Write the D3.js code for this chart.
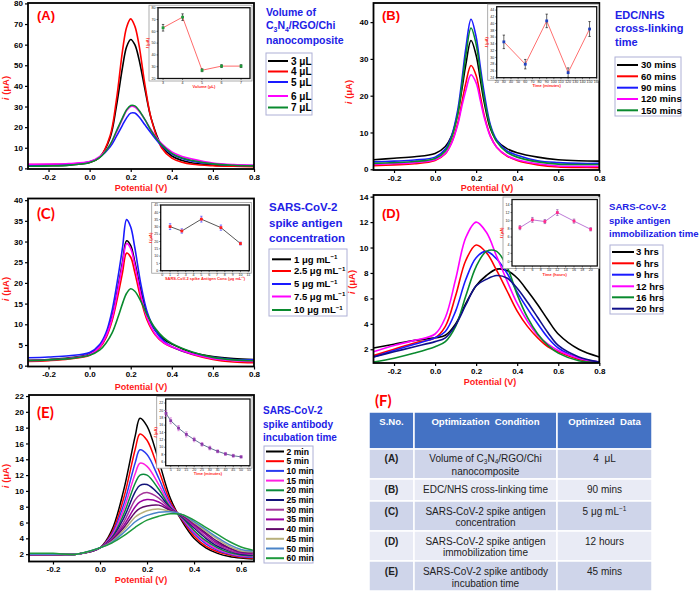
<!DOCTYPE html>
<html><head><meta charset="utf-8">
<script src="https://cdn.jsdelivr.net/npm/d3@7"></script>
<style>body{margin:0;background:#fff} svg{display:block;font-family:"Liberation Sans",Arial,sans-serif}</style>
</head><body><svg id="c" width="700" height="593"></svg>
<script>
// ---------------- DATA ----------------
// Panel A: volume of nanocomposite
const A_x = [-0.3,-0.2,-0.1,0,0.05,0.1,0.13,0.16,0.18,0.2,0.22,0.24,0.27,0.3,0.35,0.4,0.45,0.5,0.6,0.7,0.8];
const A_3uL = [1.2,1.3,1.6,2.8,5.5,15,30,49,59,62.5,60,53,38,24,11,6,3.8,2.6,1.6,1.3,1.1];
const A_4uL = [1.8,1.9,2.1,3.0,5.5,16,33,57,68.5,72.5,69,60,40,24,10,5,3,2,1.3,1.0,0.8];
const A_5uL = [1.4,1.6,2.0,3.2,5.5,10.5,15.5,21,24.5,26.8,26.8,25,21,17,11,7,4.8,3.5,2.2,1.6,1.4];
const A_6uL = [2.0,2.1,2.4,3.3,5.8,11.5,17.5,24,28,30,29.8,27.8,23.5,18.5,12,8,5.8,4.5,2.6,1.8,1.5];
const A_7uL = [1.0,1.2,1.6,2.8,5.3,11.5,18,24.5,28.5,30.5,30.3,28.2,23.5,18.2,11.5,7.3,5,3.8,2.2,1.5,1.2];
const A_labels = ["3 \u03bcL","4 \u03bcL","5 \u03bcL","6 \u03bcL","7 \u03bcL"];
const A_inset_x = [3,4,5,6,7];
const A_inset_y = [63,72,27,30.5,30.5];
const A_inset_err = [2.8,2.8,1.2,1.2,1.2];

// Panel B: EDC/NHS cross-linking time
const B_x = [-0.3,-0.2,-0.1,0,0.05,0.08,0.11,0.13,0.15,0.175,0.2,0.22,0.24,0.27,0.3,0.35,0.4,0.5,0.6,0.7,0.8];
const B_30 = [2.6,3.0,3.4,4.3,6.2,9,15,21.5,28.5,35,31,24.5,18,11,7.8,5.6,4.5,3.3,2.6,2.3,2.2];
const B_60 = [1.0,1.2,1.5,2.4,4.2,7.2,12.5,18,23.5,28.2,25.5,20,14.5,9,6,3.6,2.4,1.2,0.6,0.5,0.4];
const B_90 = [2.0,2.2,2.5,3.3,5.5,9,16,24,33,40.8,36,28,20.5,12,8,5,3.8,2.3,1.8,1.6,1.6];
const B_120 = [1.3,1.5,1.8,2.6,4.3,7,12,17,21.5,25.7,23.5,18.8,14,8.8,6,3.7,2.6,1.5,0.9,0.8,0.8];
const B_150 = [1.6,1.8,2.1,2.9,5,8.5,15,22.5,31,38.4,34,26.5,19,11.5,7.5,4.6,3.3,2.0,1.4,1.3,1.3];
const B_labels = ["30 mins","60 mins","90 mins","120 mins","150 mins"];
const B_inset_x = [30,60,90,120,150];
const B_inset_y = [34.6,28,40.8,25.5,38.4];
const B_inset_err = [2,1.4,2,1.4,2.2];

// Panel C: antigen concentration
const C_x = [-0.3,-0.2,-0.1,0,0.05,0.08,0.11,0.14,0.16,0.18,0.2,0.22,0.25,0.28,0.32,0.36,0.4,0.5,0.6,0.7,0.8];
const C_1 = [1.3,1.5,1.9,2.8,4.8,7.4,12,19.5,25,30.2,29,25,18,12.5,8.5,6.4,5.2,3.2,2.2,1.7,1.5];
const C_2p5 = [1.0,1.2,1.6,2.5,4.4,6.8,11,17.5,22.5,27.2,26.2,22.5,16,11,7.4,5.5,4.5,2.7,1.5,0.9,0.7];
const C_5 = [1.9,2.1,2.4,3.2,5.2,8,13.5,22,28.5,35.3,33.5,28.5,19.5,13,8.5,6,4.6,2.8,2,1.5,1.4];
const C_7p5 = [1.2,1.4,1.8,2.7,4.6,7.2,11.6,19,24.5,29.5,28.3,24.3,17,11.5,7.6,5.6,4.6,2.8,1.7,1.2,1.0];
const C_10 = [1.2,1.4,1.7,2.5,3.8,5.5,8,12,15,17.5,18.6,18,15.5,12.3,9,6.8,5.4,3.3,2,1.4,1.2];
const C_labels = ["1","2.5","5","7.5","10"];
const C_inset_x = [1,2.5,5,7.5,10];
const C_inset_y = [30.2,27.2,35.3,29.5,18.6];
const C_inset_err = [2,1.5,2,1.8,1];

// Panel D: immobilization time
const D_x = [-0.3,-0.2,-0.1,0,0.05,0.1,0.15,0.2,0.25,0.3,0.35,0.4,0.45,0.5,0.55,0.6,0.7,0.8];
const D_3h = [2.1,2.4,2.7,2.9,3.1,4.0,5.6,7.0,7.8,8.3,8.2,7.6,6.6,5.5,4.3,3.2,2.0,1.4];
const D_6h = [1.5,2.0,2.5,2.9,3.8,6.2,9.0,10.2,9.6,8.2,6.6,5.0,3.8,2.9,2.2,1.8,1.2,1.0];
const D_9h = [1.4,1.9,2.4,2.9,3.4,5.0,7.5,9.2,9.7,9.1,8.0,6.5,5.2,4.0,2.9,2.1,1.3,1.0];
const D_12h = [1.8,2.3,2.7,3.2,4.5,7.5,10.8,12.0,11.2,9.3,7.4,5.6,4.2,3.1,2.4,1.9,1.3,1.0];
const D_16h = [1.0,1.3,1.7,2.2,2.6,3.8,6.2,8.5,9.7,9.7,8.5,6.3,4.5,3.2,2.3,1.7,1.1,0.95];
const D_20h = [1.4,1.8,2.2,2.6,2.9,3.9,5.5,7.0,7.5,7.8,7.6,6.8,5.7,4.5,3.3,2.3,1.4,1.0];
const D_labels = ["3 hrs","6 hrs","9 hrs","12 hrs","16 hrs","20 hrs"];
const D_inset_x = [3,6,9,12,16,20];
const D_inset_y = [8.3,10.2,9.8,12,9.9,7.9];
const D_inset_err = [0.5,0.6,0.5,0.7,0.5,0.4];

// Panel E: antibody incubation time
const E_x = [-0.3,-0.2,-0.1,0,0.05,0.1,0.15,0.17,0.2,0.25,0.3,0.35,0.4,0.45,0.5,0.55,0.6,0.65];
const E_2 = [1.9,1.9,2.0,2.8,5.0,10.0,17.0,19.2,18.2,13.8,9.0,6.1,4.0,2.8,2.1,1.7,1.5,1.4];
const E_5 = [1.9,2.0,2.0,2.8,4.7,9.0,15.3,17.2,16.4,12.6,8.6,6.3,4.3,3.0,2.3,1.9,1.6,1.5];
const E_10 = [2.0,2.0,2.0,2.8,4.5,8.2,13.6,15.2,14.6,11.6,8.3,6.4,4.6,3.3,2.5,2.0,1.7,1.6];
const E_15 = [2.0,2.0,2.0,2.8,4.3,7.6,12.2,13.5,13.1,10.8,8.1,6.5,4.8,3.5,2.6,2.1,1.8,1.7];
const E_20 = [2.0,2.0,2.0,2.8,4.1,7.0,11.0,12.0,12.0,10.2,7.9,6.6,5.0,3.7,2.8,2.2,1.9,1.8];
const E_25 = [1.9,2.0,2.0,2.8,4.0,6.5,9.9,10.7,10.8,9.6,7.8,6.7,5.3,4.0,3.0,2.4,2.0,1.9];
const E_30 = [1.9,1.9,2.0,2.8,3.9,6.0,8.9,9.5,9.8,9.1,7.7,6.8,5.5,4.2,3.2,2.5,2.1,2.0];
const E_35 = [2.0,2.0,2.0,2.8,3.8,5.6,8.0,8.6,8.9,8.6,7.6,6.9,5.7,4.5,3.4,2.7,2.2,2.1];
const E_40 = [2.0,2.0,2.0,2.8,3.7,5.3,7.3,7.8,8.1,8.2,7.5,6.9,5.9,4.7,3.6,2.8,2.3,2.2];
const E_45 = [2.0,2.0,2.0,2.8,3.6,5.0,6.7,7.1,7.5,7.7,7.4,7.0,6.0,4.9,3.9,3.0,2.4,2.3];
const E_50 = [2.0,2.0,2.0,2.8,3.5,4.7,6.1,6.5,6.9,7.3,7.35,7.0,6.1,5.1,4.1,3.2,2.6,2.4];
const E_60 = [2.1,2.1,2.0,2.8,3.4,4.3,5.4,5.8,6.3,6.8,7.1,7.0,6.3,5.4,4.5,3.6,2.9,2.5];
const E_labels = ["2 min","5 min","10 min","15 min","20 min","25 min","30 min","35 min","40 min","45 min","50 min","60 min"];
const E_inset_x = [2,5,10,15,20,25,30,35,40,45,50];
const E_inset_y = [19.2,17.2,15.2,13.5,12.1,10.8,9.8,8.9,8.2,7.7,7.4];
const E_inset_err = [0.8,0.8,0.7,0.7,0.6,0.5,0.5,0.4,0.4,0.4,0.3];

// Tick values
const xTicksMain = [-0.2,0,0.2,0.4,0.6,0.8];
const xTicksE = [-0.2,0,0.2,0.4,0.6];
const A_yTicks = [0,10,20,30,40,50,60,70,80];
const B_yTicks = [0,10,20,30,40];
const C_yTicks = [0,5,10,15,20,25,30,35,40];
const D_yTicks = [2,4,6,8,10,12,14];
const E_yTicks = [2,4,6,8,10,12,14,16,18,20,22];

// Table F
const F_header = ["S.No.","Optimization  Condition","Optimized  Data"];
const F_ids = ["(A)","(B)","(C)","(D)","(E)"];
const F_cond = [["Volume of C|3|N|4|/RGO/Chi","nanocomposite"],["EDC/NHS cross-linking time"],["SARS-CoV-2 spike antigen","concentration"],["SARS-CoV-2 spike antigen","immobilization time"],["SARS-CoV-2 spike antibody","incubation time"]];
const F_value = ["4  \u03bcL","90 mins","5 \u03bcg mL^-1","12 hours","45 mins"];

// ---------------- DRAW ----------------
const svg = d3.select("#c");
const FONT = "'Liberation Sans',Arial,sans-serif";
const RED = "#ff1a1a", BLUE_T = "#2121e6";
const col5 = ["#000000","#ff0000","#1a1aff","#ff00ff","#098a2e"];

function panel(cfg){
  const x = d3.scaleLinear().domain(cfg.xd).range([cfg.l, cfg.r]);
  const y = d3.scaleLinear().domain(cfg.yd).range([cfg.b, cfg.t]);
  const g = svg.append("g");
  const cid = "clip" + cfg.id;
  svg.append("clipPath").attr("id", cid).append("rect")
    .attr("x", cfg.l).attr("y", cfg.t).attr("width", cfg.r - cfg.l).attr("height", cfg.b - cfg.t);
  const line = d3.line().x((d,i) => x(cfg.xs[i])).y(d => y(d)).curve(d3.curveCatmullRom.alpha(0.5));
  const cg = g.append("g").attr("clip-path", `url(#${cid})`);
  cfg.series.forEach(s => {
    cg.append("path").attr("d", line(s.v)).attr("fill","none").attr("stroke", s.c)
      .attr("stroke-width", cfg.sw || 1.6);
  });
  // axes
  const xa = g.append("g").attr("transform", `translate(0,${cfg.b})`)
    .call(d3.axisBottom(x).tickValues(cfg.xt).tickSize(3).tickPadding(2).tickFormat(d => d.toFixed(1)));
  const ya = g.append("g").attr("transform", `translate(${cfg.l},0)`)
    .call(d3.axisLeft(y).tickValues(cfg.yt).tickSize(3).tickPadding(2).tickFormat(d => String(d)));
  [xa, ya].forEach(a => {
    a.attr("font-size", 8).attr("font-family", FONT).attr("font-weight", "bold");
    a.select(".domain").remove();
    a.selectAll("line").attr("stroke","#000").attr("stroke-width",1.2);
  });
  g.append("rect").attr("x", cfg.l).attr("y", cfg.t).attr("width", cfg.r - cfg.l).attr("height", cfg.b - cfg.t)
    .attr("fill","none").attr("stroke","#000").attr("stroke-width",1.8);
  // axis labels
  g.append("text").attr("x", cfg.xlx).attr("y", cfg.xly).attr("text-anchor","middle")
    .attr("font-size", 9).attr("font-weight","bold").attr("fill", RED).attr("font-family", FONT)
    .text("Potential (V)");
  const yl = g.append("text").attr("transform", `translate(${cfg.ylx},${cfg.yly}) rotate(-90)`)
    .attr("text-anchor","middle").attr("font-size", 9.5).attr("font-weight","bold").attr("fill", RED).attr("font-family", FONT);
  yl.append("tspan").attr("font-style","italic").text("i");
  yl.append("tspan").text(" (\u03bcA)");
  // panel label
  g.append("text").attr("x", cfg.pl[0]).attr("y", cfg.pl[1]).attr("font-size", cfg.pl[3] || 13)
    .attr("font-weight","bold").attr("fill","#ff0000").attr("font-family", cfg.pl[2] || FONT).text(cfg.label);
  // title
  cfg.title.lines.forEach((ln, i) => {
    const t = g.append("text").attr("x", cfg.title.x).attr("y", cfg.title.y[i]).attr("font-size", cfg.title.fs)
      .attr("font-weight","bold").attr("fill", BLUE_T).attr("font-family", FONT);
    addRich(t, ln, cfg.title.fs);
  });
  // legend
  const L = cfg.legend;
  g.append("rect").attr("x", L.x0).attr("y", L.y0).attr("width", L.x1 - L.x0).attr("height", L.y1 - L.y0)
    .attr("fill","#fff").attr("stroke","#aeb0d6").attr("stroke-width",1);
  cfg.series.forEach((s, i) => {
    const yy = L.ys[i];
    g.append("line").attr("x1", L.lx0).attr("x2", L.lx1).attr("y1", yy).attr("y2", yy)
      .attr("stroke", s.c).attr("stroke-width", 2);
    const t = g.append("text").attr("x", L.tx).attr("y", yy + L.fs*0.36).attr("font-size", L.fs)
      .attr("font-weight","bold").attr("font-family", FONT).attr("fill","#000");
    addRich(t, s.label, L.fs);
  });
  return {x, y};
}

// rich text: "|" toggles subscript, "^" starts superscript to end
function addRich(t, str, fs){
  if (str.indexOf("^") >= 0){
    const [a,b] = str.split("^");
    t.append("tspan").text(a);
    t.append("tspan").attr("font-size", fs*0.65).attr("dy", -fs*0.38).text(b.replace("-","\u2212"));
    return;
  }
  const parts = str.split("|");
  parts.forEach((p, i) => {
    if (!p) return;
    const ts = t.append("tspan").text(p);
    if (i % 2 === 1){ ts.attr("font-size", fs*0.65).attr("dy", fs*0.25); }
    else if (i > 0){ ts.attr("dy", -fs*0.25); }
  });
}

function inset(ic){
  const g = svg.append("g");
  const x = d3.scaleLinear().domain(ic.xd).range([ic.l, ic.r]);
  const y = d3.scaleLinear().domain(ic.yd).range([ic.b, ic.t]);
  g.append("rect").attr("x", ic.l - 9).attr("y", ic.t - 2.5).attr("width", ic.r - ic.l + 11).attr("height", ic.b - ic.t + 5)
    .attr("fill","#fff").attr("stroke","#9a9a9a").attr("stroke-width",0.8);
  g.append("rect").attr("x", ic.l).attr("y", ic.t).attr("width", ic.r - ic.l).attr("height", ic.b - ic.t)
    .attr("fill","#fff").attr("stroke","#111").attr("stroke-width",1.3);
  ic.xt.forEach(v => {
    g.append("line").attr("x1", x(v)).attr("x2", x(v)).attr("y1", ic.b).attr("y2", ic.b + 1.5).attr("stroke","#000").attr("stroke-width",0.5);
    g.append("text").attr("x", x(v)).attr("y", ic.b + 5).attr("text-anchor","middle").attr("font-size",3.6).attr("fill","#222").attr("font-family",FONT).text(v);
  });
  ic.yt.forEach(v => {
    g.append("line").attr("x1", ic.l - 1.5).attr("x2", ic.l).attr("y1", y(v)).attr("y2", y(v)).attr("stroke","#000").attr("stroke-width",0.5);
    g.append("text").attr("x", ic.l - 2.5).attr("y", y(v) + 1.2).attr("text-anchor","end").attr("font-size",3.6).attr("fill","#222").attr("font-family",FONT).text(v);
  });
  g.append("text").attr("x", (ic.l + ic.r)/2).attr("y", ic.b + 9.5).attr("text-anchor","middle").attr("font-size",4)
    .attr("font-weight","bold").attr("fill", RED).attr("font-family",FONT).text(ic.xlab);
  const yt = g.append("text").attr("transform", `translate(${ic.l - 9},${(ic.t + ic.b)/2}) rotate(-90)`).attr("text-anchor","middle")
    .attr("font-size",4).attr("font-weight","bold").attr("fill", RED).attr("font-family",FONT);
  yt.append("tspan").attr("font-style","italic").text("I");
  yt.append("tspan").text(" (\u03bcA)");
  const ln = d3.line().x((d,i) => x(ic.xs[i])).y(d => y(d));
  g.append("path").attr("d", ln(ic.ys)).attr("fill","none").attr("stroke", ic.lc).attr("stroke-width", 0.9);
  ic.ys.forEach((v,i) => {
    const cx = x(ic.xs[i]);
    const e = ic.err[i];
    g.append("line").attr("x1",cx).attr("x2",cx).attr("y1",y(v-e)).attr("y2",y(v+e)).attr("stroke", ic.ec).attr("stroke-width",0.6);
    [v-e, v+e].forEach(w => g.append("line").attr("x1",cx-1.2).attr("x2",cx+1.2).attr("y1",y(w)).attr("y2",y(w)).attr("stroke", ic.ec).attr("stroke-width",0.6));
    g.append("rect").attr("x", cx - 1.4).attr("y", y(v) - 1.4).attr("width", 2.8).attr("height", 2.8).attr("fill", ic.mc);
  });
}

// Panel A
panel({id:"A", l:28, r:254, t:3, b:169, xd:[-0.3,0.8], yd:[-0.3,80.2], xs:A_x, xt:xTicksMain, yt:A_yTicks,
  series:[A_3uL,A_4uL,A_5uL,A_6uL,A_7uL].map((v,i)=>({v, c:col5[i], label:A_labels[i]})),
  xlx:141, xly:191, ylx:9, yly:88, pl:[37,20], label:"(A)",
  title:{x:266, y:[15.5,29,44], fs:10.5, lines:["Volume of","C|3|N|4|/RGO/Chi","nanocomposite"]},
  legend:{x0:266, y0:53, x1:312, y1:115, ys:[61,71.5,82,96,107.5], lx0:268, lx1:288, tx:291, fs:10}});
inset({l:158, t:7.7, r:250, b:78.5, xd:[2.74,7.46], yd:[20,80], xt:[3,4,5,6,7], yt:[20,30,40,50,60,70,80],
  xs:A_inset_x, ys:A_inset_y, err:A_inset_err, lc:"#ff5a5a", mc:"#1e9a3a", ec:"#000", xlab:"Volume (\u03bcL)"});

// Panel B
panel({id:"B", l:373.5, r:599.3, t:3, b:170, xd:[-0.3,0.8], yd:[-0.2,45.2], xs:B_x, xt:xTicksMain, yt:B_yTicks,
  series:[B_30,B_60,B_90,B_120,B_150].map((v,i)=>({v, c:col5[i], label:B_labels[i]})),
  xlx:487, xly:191, ylx:352, yly:92, pl:[382,20], label:"(B)",
  title:{x:615, y:[18.5,32,46], fs:11, lines:["EDC/NHS","cross-linking","time"]},
  legend:{x0:615, y0:57, x1:681, y1:116, ys:[65,76.3,87.7,99,110.3], lx0:617, lx1:638, tx:641, fs:9.5}});
inset({l:496.7, t:6.7, r:596.7, b:77.7, xd:[20,160], yd:[24,45], xt:[20,30,40,50,60,70,80,90,100,110,120,130,140,150,160], yt:[24,26,28,30,32,34,36,38,40,42,44],
  xs:B_inset_x, ys:B_inset_y, err:B_inset_err, lc:"#ff6060", mc:"#1f3fbf", ec:"#000", xlab:"Time (minutes)"});

// Panel C
panel({id:"C", l:28, r:254, t:198.5, b:366.5, xd:[-0.3,0.8], yd:[-0.2,40.4], xs:C_x, xt:xTicksMain, yt:C_yTicks,
  series:[C_1,C_2p5,C_5,C_7p5,C_10].map((v,i)=>({v, c:col5[i], label:C_labels[i] + " \u03bcg mL^-1"})),
  xlx:141, xly:390, ylx:9, yly:289, pl:[37,219,"Lato",15], label:"(C)",
  title:{x:269, y:[211,227,242], fs:11.5, lines:["SARS-CoV-2","spike antigen","concentration"]},
  legend:{x0:269, y0:249, x1:347, y1:316, ys:[259.3,271,284,296.5,310], lx0:272, lx1:291, tx:294, fs:9.5}});
inset({l:160.7, t:205, r:249.3, b:270.7, xd:[-0.2,11.13], yd:[0,45], xt:[0,1,2,3,4,5,6,7,8,9,10,11], yt:[0,5,10,15,20,25,30,35,40,45],
  xs:C_inset_x, ys:C_inset_y, err:C_inset_err, lc:"#444", mc:"#ff2020", ec:"#3030ff", xlab:"SARS-CoV-2 spike Antigen Conc (\u03bcg mL\u207b\u00b9)"});

// Panel D
panel({id:"D", l:373.5, r:599.3, t:195, b:363, xd:[-0.3,0.8], yd:[0.92,14.13], xs:D_x, xt:xTicksMain, yt:D_yTicks,
  series:[D_3h,D_6h,D_9h,D_12h,D_16h,D_20h].map((v,i)=>({v, c:["#000","#ff0000","#1a1aff","#ff00ff","#098a2e","#10108a"][i], label:D_labels[i]})),
  xlx:490, xly:385, ylx:355, yly:282, pl:[382,218], label:"(D)",
  title:{x:609, y:[210,223.5,236.5], fs:9.6, lines:["SARS-CoV-2","spike antigen","immobilization time"]},
  legend:{x0:610, y0:245, x1:663, y1:314, ys:[252,263.3,274.7,286.3,297.3,308.7], lx0:612, lx1:634, tx:636, fs:9.5}});
inset({l:512, t:199.5, r:597.3, b:266, xd:[1.1,21.6], yd:[-1.1,15.2], xt:[2,4,6,8,10,12,14,16,18,20], yt:[0,2,4,6,8,10,12,14],
  xs:D_inset_x, ys:D_inset_y, err:D_inset_err, lc:"#b46ad0", mc:"#ff2a8a", ec:"#8040a0", xlab:"Time (hours)"});

// Panel E
panel({id:"E", l:29, r:254, t:395, b:561.5, xd:[-0.302,0.655], yd:[1.07,22.13], xs:E_x, xt:xTicksE, yt:E_yTicks, sw:1.5,
  series:[E_2,E_5,E_10,E_15,E_20,E_25,E_30,E_35,E_40,E_45,E_50,E_60].map((v,i)=>({v,
    c:["#000","#ff0000","#2a3cf0","#ff20e0","#0a8a3a","#14147a","#a4369a","#9a00a0","#620a6a","#b8b07c","#4a84c8","#1e9a3c"][i], label:E_labels[i]})),
  xlx:141, xly:583, ylx:9, yly:476, pl:[37,418,"Lato",15], label:"(E)",
  title:{x:263, y:[414,428,440.5], fs:10, lines:["SARS-CoV-2","spike antibody","incubation time"]},
  legend:{x0:264, y0:446, x1:313, y1:563, ys:d3.range(12).map(i => 451.5 + i*9.7), lx0:266, lx1:284, tx:286.5, fs:8.6}});
inset({l:165.7, t:399, r:250, b:465.7, xd:[1.8,55.7], yd:[5,23.1], xt:[5,10,15,20,25,30,35,40,45,50,55], yt:[6,8,10,12,14,16,18,20,22],
  xs:E_inset_x, ys:E_inset_y, err:E_inset_err, lc:"#55688a", mc:"#8a3aa8", ec:"#d060d0", xlab:"Time (minutes)"});

// Panel F table
(function(){
  const g = svg.append("g");
  g.append("text").attr("x",375).attr("y",406).attr("font-size",15).attr("font-weight","bold").attr("fill","#ff0000")
    .attr("font-family","Lato").text("(F)");
  const cols = [369, 414, 557, 652];
  const rows = [412, 449, 479, 501, 531, 561, 591];
  const fills = ["#4472c4","#cfd5ea","#e9ebf5","#cfd5ea","#e9ebf5","#cfd5ea"];
  for (let r = 0; r < 6; r++){
    for (let c = 0; c < 3; c++){
      g.append("rect").attr("x", cols[c]).attr("y", rows[r]).attr("width", cols[c+1]-cols[c]).attr("height", rows[r+1]-rows[r])
        .attr("fill", fills[r]).attr("stroke","#fff").attr("stroke-width",1.5);
    }
  }
  const cx = [391.5, 485.5, 604.5];
  F_header.forEach((h,i) => g.append("text").attr("x", cx[i]).attr("y", 425).attr("text-anchor","middle")
    .attr("font-size",9.6).attr("font-weight","bold").attr("fill","#fff").attr("font-family",FONT).attr("xml:space","preserve").text(h));
  const lineYs = [[458,471],[489],[511,522.5],[541,552.5],[571,583]];
  F_ids.forEach((id, r) => {
    const y0 = lineYs[r][0];
    g.append("text").attr("x", cx[0]).attr("y", y0 + 3.5).attr("text-anchor","middle").attr("font-size",10)
      .attr("font-weight","bold").attr("fill","#222").attr("font-family",FONT).text(id);
    F_cond[r].forEach((ln, k) => {
      const t = g.append("text").attr("x", cx[1]).attr("y", lineYs[r][k] + 3.5).attr("text-anchor","middle")
        .attr("font-size",10).attr("fill","#222").attr("font-family",FONT);
      addRich(t, ln, 10);
    });
    const tv = g.append("text").attr("x", cx[2]).attr("y", y0 + 3.5).attr("text-anchor","middle")
      .attr("font-size",10).attr("fill","#222").attr("font-family",FONT).attr("xml:space","preserve");
    addRich(tv, F_value[r], 10);
  });
})();
</script></body></html>
